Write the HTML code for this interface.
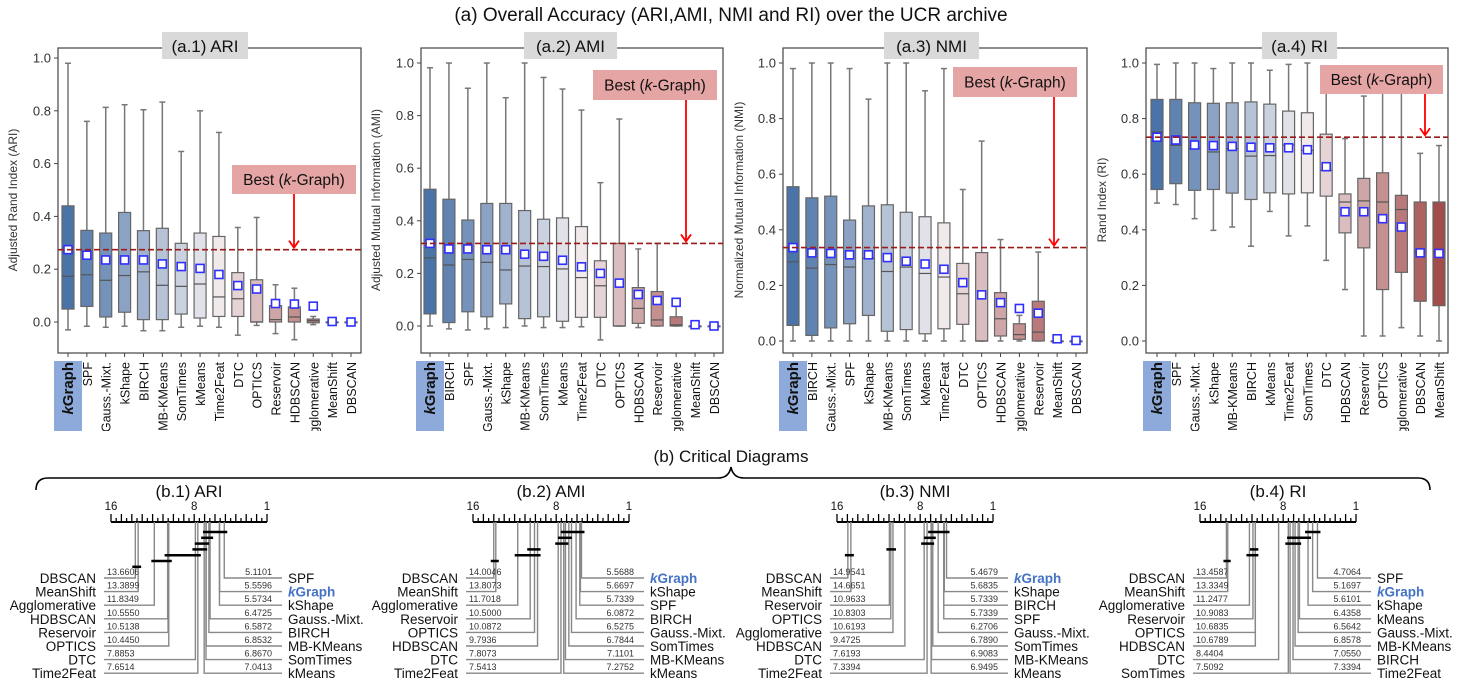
<!DOCTYPE html>
<html><head><meta charset="utf-8">
<style>
html,body{margin:0;padding:0;background:#fff;}
svg{display:block;font-family:"Liberation Sans",sans-serif;}
</style></head>
<body>
<svg id="fig" width="1462" height="685" viewBox="0 0 1462 685" xmlns="http://www.w3.org/2000/svg">
<defs><clipPath id="topclip"><rect x="0" y="0" width="1462" height="431"/></clipPath></defs>
<text x="731" y="21" text-anchor="middle" font-size="19" fill="#111">(a) Overall Accuracy (ARI,AMI, NMI and RI) over the UCR archive</text>
<text x="731" y="462" text-anchor="middle" font-size="17" fill="#111">(b) Critical Diagrams</text>
<path d="M36,490 Q36,478 48,478 L718,478 Q729,478 731,467 Q733,478 744,478 L1418,478 Q1430,478 1430,490" fill="none" stroke="#000" stroke-width="1.6"/>
<g id="topgroup" clip-path="url(#topclip)"></g>
<g id="bottomgroup"></g>
</svg>
<script>
// ---------- Box plot data: [whiskerLow, q1, median, q3, whiskerHigh] ----------
const ari_names = ["kGraph","SPF","Gauss.-Mixt.","kShape","BIRCH","MB-KMeans","SomTimes","kMeans","Time2Feat","DTC","OPTICS","Reservoir","HDBSCAN","Agglomerative","MeanShift","DBSCAN"];
const ari_stats = [[-0.03,0.049,0.173,0.44,0.98],[-0.016,0.059,0.179,0.347,0.76],[-0.02,0.019,0.158,0.337,0.813],[-0.016,0.037,0.176,0.415,0.823],[-0.033,0.009,0.19,0.346,0.804],[-0.033,0.009,0.139,0.355,0.833],[-0.02,0.03,0.135,0.298,0.646],[-0.016,0.015,0.144,0.337,0.8],[-0.02,0.021,0.095,0.324,0.718],[-0.05,0.021,0.088,0.187,0.358],[-0.013,0.0,0.0,0.16,0.396],[-0.044,0.0,0.009,0.062,0.141],[-0.067,0.0,0.019,0.057,0.128],[-0.01,-0.003,0.005,0.011,0.021],[0,0,0,0,0],[0,0,0,0,0]];
const ari_means = [0.274,0.253,0.235,0.235,0.235,0.22,0.21,0.203,0.18,0.138,0.125,0.07,0.068,0.06,0.002,0.0];

const ami_names = ["kGraph","BIRCH","SPF","Gauss.-Mixt.","kShape","MB-KMeans","SomTimes","kMeans","Time2Feat","DTC","OPTICS","HDBSCAN","Reservoir","Agglomerative","MeanShift","DBSCAN"];
const ami_stats = [[0,0.046,0.259,0.52,0.982],[-0.011,0.013,0.232,0.482,1.0],[-0.015,0.054,0.253,0.403,0.904],[-0.011,0.035,0.242,0.466,1.0],[-0.006,0.084,0.213,0.466,0.868],[0,0.028,0.228,0.439,1.0],[-0.006,0.035,0.226,0.406,0.945],[-0.006,0.018,0.217,0.411,0.901],[-0.003,0.033,0.184,0.378,0.821],[-0.053,0.033,0.153,0.248,0.545],[0,0,0,0.314,0.787],[-0.006,0.01,0.067,0.146,0.293],[0,0,0.023,0.131,0.314],[0,0,0.004,0.035,0.089],[0,0,0,0,0],[0,0,0,0,0]];
const ami_means = [0.314,0.293,0.293,0.29,0.29,0.273,0.265,0.25,0.225,0.2,0.163,0.12,0.097,0.09,0.005,0.0];

const nmi_names = ["kGraph","BIRCH","Gauss.-Mixt.","SPF","kShape","MB-KMeans","SomTimes","kMeans","Time2Feat","DTC","OPTICS","HDBSCAN","Agglomerative","Reservoir","MeanShift","DBSCAN"];
const nmi_stats = [[0,0.056,0.285,0.555,0.98],[0,0.02,0.262,0.515,1.0],[0,0.047,0.275,0.521,1.0],[0,0.062,0.266,0.435,0.98],[0,0.092,0.297,0.486,0.87],[0,0.035,0.25,0.49,1.0],[0,0.041,0.266,0.463,1.0],[0,0.026,0.243,0.447,0.9],[0,0.044,0.23,0.425,0.98],[0,0.06,0.17,0.279,0.545],[0,0,0,0.318,0.719],[0,0.018,0.08,0.174,0.365],[0,0.006,0.023,0.062,0.092],[0,0,0.032,0.143,0.32],[0,0,0,0,0],[0,0,0,0,0]];
const nmi_means = [0.336,0.317,0.315,0.31,0.31,0.3,0.287,0.277,0.258,0.21,0.166,0.138,0.117,0.1,0.008,0.002];

const ri_names = ["kGraph","SPF","Gauss.-Mixt.","kShape","MB-KMeans","BIRCH","kMeans","Time2Feat","SomTimes","DTC","HDBSCAN","Reservoir","OPTICS","Agglomerative","DBSCAN","MeanShift"];
const ri_stats = [[0.496,0.545,0.752,0.869,0.995],[0.491,0.566,0.704,0.869,1.0],[0.44,0.542,0.692,0.857,1.0],[0.398,0.545,0.68,0.855,0.98],[0.41,0.532,0.692,0.857,1.0],[0.341,0.509,0.665,0.86,1.0],[0.466,0.533,0.667,0.852,0.974],[0.378,0.529,0.705,0.827,0.995],[0.414,0.533,0.686,0.821,1.0],[0.29,0.521,0.614,0.744,0.909],[0.185,0.389,0.5,0.529,0.728],[0.018,0.335,0.504,0.585,0.881],[0.018,0.185,0.5,0.605,0.98],[0.048,0.247,0.473,0.524,0.91],[0.018,0.143,0.32,0.5,0.675],[0,0.127,0.32,0.5,0.703]];
const ri_means = [0.733,0.723,0.705,0.703,0.7,0.697,0.695,0.695,0.688,0.627,0.465,0.465,0.44,0.41,0.317,0.315];

const y_ticks = [0.0,0.2,0.4,0.6,0.8,1.0];

// ---------- Critical diagram data ----------
const cd1_left_names = ["DBSCAN","MeanShift","Agglomerative","HDBSCAN","Reservoir","OPTICS","DTC","Time2Feat"];
const cd1_left_ranks = [13.6606,13.3899,11.8349,10.5550,10.5138,10.4450,7.8853,7.6514];
const cd1_right_names = ["SPF","kGraph","kShape","Gauss.-Mixt.","BIRCH","MB-KMeans","SomTimes","kMeans"];
const cd1_right_ranks = [5.1101,5.5596,5.5734,6.4725,6.5872,6.8532,6.8670,7.0413];
const cd1_cliques = [[6.8670,5.1101],[7.0413,6.4725],[7.6514,6.8532],[7.8853,7.0413],[10.5550,7.6514],[11.8349,10.4450],[13.6606,13.3899]];

const cd2_left_names = ["DBSCAN","MeanShift","Agglomerative","Reservoir","OPTICS","HDBSCAN","DTC","Time2Feat"];
const cd2_left_ranks = [14.0046,13.8073,11.7018,10.5000,10.0872,9.7936,7.8073,7.5413];
const cd2_right_names = ["kGraph","kShape","SPF","BIRCH","Gauss.-Mixt.","SomTimes","MB-KMeans","kMeans"];
const cd2_right_ranks = [5.5688,5.6697,5.7339,6.0872,6.5275,6.7844,7.1101,7.2752];
const cd2_cliques = [[7.2752,5.5688],[7.5413,6.7844],[7.8073,7.1101],[10.5000,9.7936],[11.7018,9.7936],[14.0046,13.8073]];

const cd3_left_names = ["DBSCAN","MeanShift","Reservoir","OPTICS","Agglomerative","HDBSCAN","DTC","Time2Feat"];
const cd3_left_ranks = [14.9541,14.6651,10.9633,10.8303,10.6193,9.4725,7.6193,7.3394];
const cd3_right_names = ["kGraph","kShape","BIRCH","SPF","Gauss.-Mixt.","SomTimes","MB-KMeans","kMeans"];
const cd3_right_ranks = [5.4679,5.6835,5.7339,5.7339,6.2706,6.7890,6.9083,6.9495];
const cd3_cliques = [[6.9495,5.4679],[7.3394,6.7890],[7.6193,6.9495],[10.9633,10.6193],[14.9541,14.6651]];

const cd4_left_names = ["DBSCAN","MeanShift","Agglomerative","Reservoir","OPTICS","HDBSCAN","DTC","SomTimes"];
const cd4_left_ranks = [13.4587,13.3349,11.2477,10.9083,10.6835,10.6789,8.4404,7.5092];
const cd4_right_names = ["SPF","kGraph","kShape","kMeans","Gauss.-Mixt.","MB-KMeans","BIRCH","Time2Feat"];
const cd4_right_ranks = [4.7064,5.1697,5.6101,6.4358,6.5642,6.8578,7.0550,7.3394];
const cd4_cliques = [[5.6101,4.7064],[7.3394,5.6101],[7.5092,6.5642],[10.9083,10.6789],[11.2477,10.6789],[13.4587,13.3349]];

const NS = "http://www.w3.org/2000/svg";
function mk(tag, attrs, parent){
  const e = document.createElementNS(NS, tag);
  for (const k in attrs) e.setAttribute(k, attrs[k]);
  parent.appendChild(e);
  return e;
}
function lerp(a,b,t){return a+(b-a)*t;}
function boxColor(i,n){
  const t = i/(n-1);
  const A=[74,115,168], M=[242,238,240], B=[163,76,76];
  let c;
  if (t<0.52){const u=t/0.52; c=A.map((v,k)=>Math.round(lerp(v,M[k],u)));}
  else {const u=(t-0.52)/0.48; c=M.map((v,k)=>Math.round(lerp(v,B[k],u)));}
  return "rgb("+c.join(",")+")";
}

const topG = document.getElementById("topgroup");
const bottomG = document.getElementById("bottomgroup");

const panels = [
  {id:"ari", title:"(a.1) ARI", ylab:"Adjusted Rand Index (ARI)", names:ari_names, stats:ari_stats, means:ari_means,
   fx0:58, fx1:361, y0:322, sc:264, c0:68, c1:351, tb:[162,248], best:[232,356,165,194], ax:294, ylx:17},
  {id:"ami", title:"(a.2) AMI", ylab:"Adjusted Mutual Information (AMI)", names:ami_names, stats:ami_stats, means:ami_means,
   fx0:421, fx1:723, y0:326, sc:263, c0:430, c1:714, tb:[524,617], best:[593,717,70,100], ax:686, ylx:380},
  {id:"nmi", title:"(a.3) NMI", ylab:"Normalized Mutual Information (NMI)", names:nmi_names, stats:nmi_stats, means:nmi_means,
   fx0:783, fx1:1087, y0:341, sc:278, c0:793, c1:1076, tb:[884,979], best:[953,1077,67,97], ax:1054, ylx:743},
  {id:"ri", title:"(a.4) RI", ylab:"Rand Index (RI)", names:ri_names, stats:ri_stats, means:ri_means,
   fx0:1146, fx1:1448, y0:341, sc:278, c0:1157, c1:1439, tb:[1262,1337], best:[1320,1443,65,94], ax:1425, ylx:1106}
];

panels.forEach(p => {
  const g = mk("g", {}, topG);
  
  
  const fy0 = 48, fy1 = 353;
  const Y = v => p.y0 - v*p.sc;
  const n = p.names.length;
  const X = i => p.c0 + (p.c1-p.c0)*i/(n-1);

  const frame = mk("rect", {x:p.fx0, y:fy0, width:p.fx1-p.fx0, height:fy1-fy0, fill:"#fff", stroke:"#444", "stroke-width":1.2}, g);
  
  

  y_ticks.forEach(t => {
    const tl = mk("line", {x1:p.fx0-4, x2:p.fx0, y1:Y(t), y2:Y(t), stroke:"#444"}, g);
    
    
    const tt = mk("text", {x:p.fx0-7, y:Y(t)+4.5, "text-anchor":"end", "font-size":13, fill:"#333"}, g);
    
    
    tt.textContent = t.toFixed(1);
  });
  const yl = mk("text", {x:p.ylx, y:200, "text-anchor":"middle", "font-size":12, fill:"#333", transform:"rotate(-90 "+p.ylx+" 200)"}, g);
  
  
  yl.textContent = p.ylab;

  const tb = mk("rect", {x:p.tb[0], y:32, width:p.tb[1]-p.tb[0], height:27, fill:"#d9d9d9"}, g);
  
  
  const tt = mk("text", {x:(p.tb[0]+p.tb[1])/2, y:52, "text-anchor":"middle", "font-size":17, fill:"#111"}, g);
  
  
  tt.textContent = p.title;

  const hl = mk("rect", {x:X(0)-14, y:361, width:28, height:75, fill:"#8eaadb"}, g);
  
  

  p.names.forEach((nm, i) => {
    const s = p.stats[i], cx = X(i), w = 12;
    const bg = mk("g", {}, g);
    
    
    mk("line", {x1:cx, x2:cx, y1:Y(s[0]), y2:Y(s[1]), stroke:"#777", "stroke-width":1.5}, bg);
    mk("line", {x1:cx, x2:cx, y1:Y(s[3]), y2:Y(s[4]), stroke:"#777", "stroke-width":1.5}, bg);
    mk("line", {x1:cx-3, x2:cx+3, y1:Y(s[0]), y2:Y(s[0]), stroke:"#777", "stroke-width":1.5}, bg);
    mk("line", {x1:cx-3, x2:cx+3, y1:Y(s[4]), y2:Y(s[4]), stroke:"#777", "stroke-width":1.5}, bg);
    mk("rect", {x:cx-w/2, y:Y(s[3]), width:w, height:Math.max(0.8, Y(s[1])-Y(s[3])), fill:boxColor(i,n), stroke:"#666", "stroke-width":1.2}, bg);
    mk("line", {x1:cx-w/2, x2:cx+w/2, y1:Y(s[2]), y2:Y(s[2]), stroke:"#555", "stroke-width":1.2}, bg);
    const mm = mk("rect", {x:cx-4, y:Y(p.means[i])-4, width:8, height:8, fill:"#fff", stroke:"#2f2fff", "stroke-width":1.6}, g);
    
    
    const xt = mk("line", {x1:cx, x2:cx, y1:fy1, y2:fy1+4, stroke:"#444"}, g);
    
    
    const lb = mk("text", {x:0, y:0, "text-anchor":"end", "font-size": nm==="kGraph"?15:12.5, "font-weight": nm==="kGraph"?"bold":"normal", fill:"#111", transform:"translate("+(cx+5)+",362) rotate(-90)"}, g);
    
    
    if (nm==="kGraph"){
      const k = mk("tspan", {"font-style":"italic"}, lb); k.textContent = "k";
      const r = mk("tspan", {}, lb); r.textContent = "Graph";
    } else lb.textContent = nm;
  });

  const by = Y(p.means[0]);
  const bl = mk("line", {x1:p.fx0, x2:p.fx1, y1:by, y2:by, stroke:"#9b1b1b", "stroke-width":1.6, "stroke-dasharray":"6,3"}, g);
  
  
  const bb = mk("rect", {x:p.best[0], y:p.best[2], width:p.best[1]-p.best[0], height:p.best[3]-p.best[2], fill:"#e6a5a5"}, g);
  
  
  const bt = mk("text", {x:(p.best[0]+p.best[1])/2, y:(p.best[2]+p.best[3])/2+5.5, "text-anchor":"middle", "font-size":15.5, fill:"#111"}, g);
  
  
  const t1 = mk("tspan", {}, bt); t1.textContent = "Best (";
  const t2 = mk("tspan", {"font-style":"italic"}, bt); t2.textContent = "k";
  const t3 = mk("tspan", {}, bt); t3.textContent = "-Graph)";
  const ar = mk("path", {d:"M"+p.ax+","+p.best[3]+" L"+p.ax+","+(by-2)+" M"+(p.ax-5)+","+(by-9)+" L"+p.ax+","+(by-2)+" L"+(p.ax+5)+","+(by-9), fill:"none", stroke:"#ff0000", "stroke-width":1.8}, g);
  
  
});

const cds = [
  {id:"cd-ari", title:"(b.1) ARI", a0:111, ln:cd1_left_names, lr:cd1_left_ranks, rn:cd1_right_names, rr:cd1_right_ranks, cl:cd1_cliques},
  {id:"cd-ami", title:"(b.2) AMI", a0:473, ln:cd2_left_names, lr:cd2_left_ranks, rn:cd2_right_names, rr:cd2_right_ranks, cl:cd2_cliques},
  {id:"cd-nmi", title:"(b.3) NMI", a0:837, ln:cd3_left_names, lr:cd3_left_ranks, rn:cd3_right_names, rr:cd3_right_ranks, cl:cd3_cliques},
  {id:"cd-ri", title:"(b.4) RI", a0:1200, ln:cd4_left_names, lr:cd4_left_ranks, rn:cd4_right_names, rr:cd4_right_ranks, cl:cd4_cliques}
];
cds.forEach(c => {
  const g = mk("g", {}, bottomG);
  
  
  const W = 156, ay = 522;
  const X = r => c.a0 + (16 - r) * W / 15;
  const tt = mk("text", {x:c.a0+W/2, y:497, "text-anchor":"middle", "font-size":17, fill:"#111"}, g);
  
  
  tt.textContent = c.title;
  const ax = mk("line", {x1:c.a0, x2:c.a0+W, y1:ay, y2:ay, stroke:"#000", "stroke-width":2}, g);
  
  
  for (let r = 1; r <= 16; r += 0.5) {
    const h = (r % 1 === 0) ? 8 : 4;
    const tk = mk("line", {x1:X(r), x2:X(r), y1:ay, y2:ay-h, stroke:"#000", "stroke-width":1.3}, g);
    
    
  }
  [16, 8, 1].forEach(r => {
    const tl = mk("text", {x:X(r), y:ay-12, "text-anchor":"middle", "font-size":11.5, fill:"#111"}, g);
    
    
    tl.textContent = String(r);
  });
  const rowY = i => 578 + i * 13.6;
  function entry(name, rank, i, side){
    const x = X(rank), y = rowY(i);
    const eg = mk("g", {}, g);
    
    
    const xe = side === "L" ? c.a0 - 7 : c.a0 + W + 15;
    mk("path", {d:"M"+x+","+ay+" L"+x+","+y+" L"+xe+","+y, fill:"none", stroke:"#888", "stroke-width":1.4}, eg);
    const v = mk("text", {x: side==="L" ? c.a0-4 : c.a0+W+5, y:y-3, "text-anchor": side==="L"?"start":"end", "font-size":9, fill:"#333"}, eg);
    v.textContent = rank.toFixed(4);
    const nt = mk("text", {x: side==="L" ? c.a0-15 : c.a0+W+21, y:y+5, "text-anchor": side==="L"?"end":"start", "font-size":13.5, fill: name==="kGraph"?"#4472c4":"#111", "font-weight": name==="kGraph"?"bold":"normal"}, eg);
    if (name === "kGraph") {
      const k = mk("tspan", {"font-style":"italic"}, nt); k.textContent = "k";
      const r2 = mk("tspan", {}, nt); r2.textContent = "Graph";
    } else nt.textContent = name;
  }
  c.ln.forEach((nm, i) => entry(nm, c.lr[i], i, "L"));
  c.rn.forEach((nm, i) => entry(nm, c.rr[i], i, "R"));
  c.cl.forEach((q, k) => {
    const y = 532 + k * 5.8;
    const b = mk("line", {x1:X(q[0])-3, x2:X(q[1])+3, y1:y, y2:y, stroke:"#000", "stroke-width":2.5}, g);
    
    
  });
});
</script>
</body></html>
